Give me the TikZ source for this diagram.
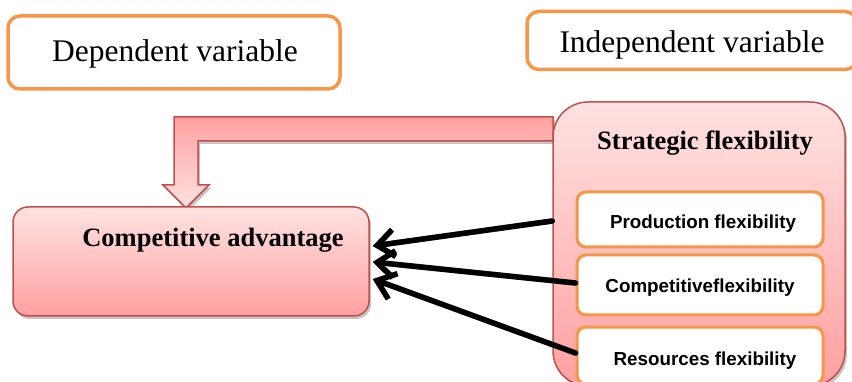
\documentclass[tikz,border=0pt]{standalone}
\usepackage{fontspec}
\setmainfont{Liberation Serif}
\newfontfamily\arialfont{Liberation Sans}
\usetikzlibrary{arrows.meta,shadows,calc}
\definecolor{orng}{HTML}{F79646}
\definecolor{redb}{HTML}{C0504D}
\definecolor{pinklt}{HTML}{FFE2E2}
\definecolor{pinkdk}{HTML}{FFA0A0}
\begin{document}
\begin{tikzpicture}[x=1pt,y=-1pt,
  varbox/.style={draw=orng, line width=3.5pt, rounded corners=12pt, fill=white, inner sep=0pt},
  subbox/.style={draw=orng, line width=3pt, rounded corners=9pt, fill=white, minimum width=246pt, inner sep=0pt},
  pinkbox/.style={draw=redb, line width=1.5pt, top color=pinklt, bottom color=pinkdk, inner sep=0pt,
     drop shadow={shadow xshift=2pt, shadow yshift=-3pt, opacity=0.45}},
  vartext/.style={anchor=base, inner sep=0pt, font=\fontsize{31.5}{36}\selectfont},
  boldtext/.style={anchor=base, inner sep=0pt, font=\fontsize{26.5}{30}\selectfont\bfseries},
  subtext/.style={anchor=base, inner sep=0pt, font=\arialfont\fontsize{18.8}{22}\selectfont\bfseries},
  flow/.style={line width=5.5pt, -{Straight Barb[length=17pt,width=27pt]}, line cap=round, line join=round},
  flowshadow/.style={flow, draw=black!40, xshift=1.5pt, yshift=-2.5pt}]
\useasboundingbox (0,0) rectangle (852,382);
\clip (0,0) rectangle (852,382);

% variable boxes
\node[varbox, minimum width=332pt, minimum height=73pt] (dep) at (174,52.5) {};
\node[vartext] (deptext) at (175,62) {Dependent variable};
\node[varbox, minimum width=330pt, minimum height=58pt] (ind) at (692,40.5) {};
\node[vartext] (indtext) at (692,53) {Independent variable};

% block arrow
\path[draw=redb, line width=1.5pt, top color=pinkdk, bottom color=pinklt,
      drop shadow={shadow xshift=2pt, shadow yshift=-3pt, opacity=0.45}]
  (553,117) -- (174,117) -- (174,185) -- (163,185) -- (186,208) -- (209,185)
  -- (198,185) -- (198,141) -- (553,141) -- cycle;

% competitive advantage
\node[pinkbox, rounded corners=15pt, minimum width=356pt, minimum height=109pt] (comp) at (191,261.5) {};
\node[boldtext] (comptext) at (213,247) {Competitive advantage};

% strategic flexibility
\node[pinkbox, rounded corners=35pt, minimum width=292pt, minimum height=284pt] (strat) at (699,244) {};
\node[boldtext] (strattext) at (705,150) {Strategic flexibility};

\node[subbox, minimum height=55pt] (prod) at (700,219.5) {};
\node[subtext] (prodtext) at (703,229) {Production flexibility};
\node[subbox, minimum height=60pt] (compf) at (700,285) {};
\node[subtext] (compftext) at (700,293) {Competitiveflexibility};
\node[subbox, minimum height=57pt] (res) at (700,355.5) {};
\node[subtext] (restext) at (705,365) {Resources flexibility};

% connectors
\coordinate (s1) at ($(strat.west)+(0,-23)$);
\coordinate (s2) at ($(compf.west)+(0,-2)$);
\coordinate (s3) at ($(res.west)+(0,-2.5)$);
\coordinate (t1) at ($(comp.east)+(3,-15.5)$);
\coordinate (t2) at ($(comp.east)+(3,0.5)$);
\coordinate (t3) at ($(comp.east)+(3,17.5)$);
\draw[flowshadow] (s1) -- (t1);
\draw[flowshadow] (s2) -- (t2);
\draw[flowshadow] (s3) -- (t3);
\draw[flow] (s1) -- (t1);
\draw[flow] (s2) -- (t2);
\draw[flow] (s3) -- (t3);
\end{tikzpicture}
\end{document}
